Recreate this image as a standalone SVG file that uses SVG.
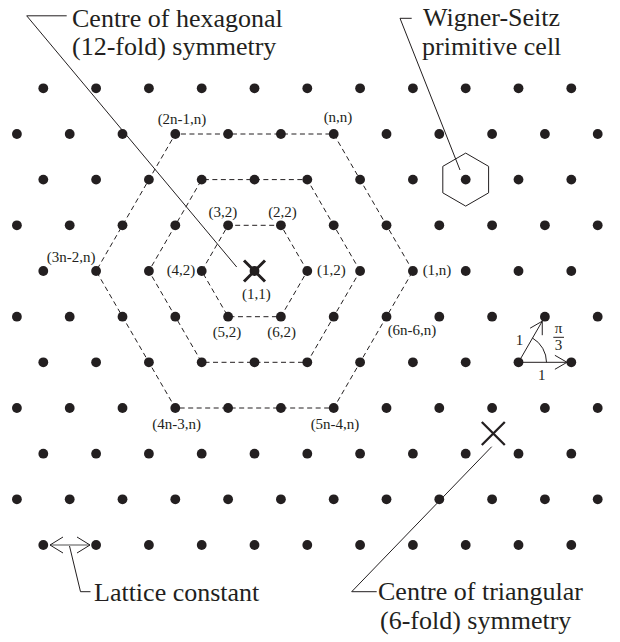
<svg xmlns="http://www.w3.org/2000/svg" xmlns:xlink="http://www.w3.org/1999/xlink" width="620" height="642" viewBox="0 0 620 642">
<style>
.dot{fill:#231f20}
.dash{fill:none;stroke:#231f20;stroke-width:1;stroke-dasharray:5,3.5}
.lead{fill:none;stroke:#231f20;stroke-width:1}
.big{font-size:26px;fill:#231f20}
.lbl{font-size:15px;fill:#231f20;text-anchor:middle}
.xm{fill:none;stroke:#231f20;stroke-linecap:butt}
</style>
<defs>
<g id="evenRow">
<circle class="dot" cx="43.3" cy="0" r="4.9"/><circle class="dot" cx="96.1" cy="0" r="4.9"/><circle class="dot" cx="148.9" cy="0" r="4.9"/><circle class="dot" cx="201.7" cy="0" r="4.9"/><circle class="dot" cx="254.5" cy="0" r="4.9"/><circle class="dot" cx="307.3" cy="0" r="4.9"/><circle class="dot" cx="360.1" cy="0" r="4.9"/><circle class="dot" cx="412.9" cy="0" r="4.9"/><circle class="dot" cx="465.7" cy="0" r="4.9"/><circle class="dot" cx="518.5" cy="0" r="4.9"/><circle class="dot" cx="571.3" cy="0" r="4.9"/>
</g>
<g id="oddRow">
<circle class="dot" cx="16.9" cy="0" r="4.9"/><circle class="dot" cx="69.7" cy="0" r="4.9"/><circle class="dot" cx="122.5" cy="0" r="4.9"/><circle class="dot" cx="175.3" cy="0" r="4.9"/><circle class="dot" cx="228.1" cy="0" r="4.9"/><circle class="dot" cx="280.9" cy="0" r="4.9"/><circle class="dot" cx="333.7" cy="0" r="4.9"/><circle class="dot" cx="386.5" cy="0" r="4.9"/><circle class="dot" cx="439.3" cy="0" r="4.9"/><circle class="dot" cx="492.1" cy="0" r="4.9"/><circle class="dot" cx="544.9" cy="0" r="4.9"/><circle class="dot" cx="597.7" cy="0" r="4.9"/>
</g>
</defs>

<g id="lattice">
<use xlink:href="#evenRow" href="#evenRow" y="88.3"/>
<use xlink:href="#oddRow" href="#oddRow" y="134"/>
<use xlink:href="#evenRow" href="#evenRow" y="179.6"/>
<use xlink:href="#oddRow" href="#oddRow" y="225.3"/>
<use xlink:href="#evenRow" href="#evenRow" y="271"/>
<use xlink:href="#oddRow" href="#oddRow" y="316.7"/>
<use xlink:href="#evenRow" href="#evenRow" y="362.3"/>
<use xlink:href="#oddRow" href="#oddRow" y="408"/>
<use xlink:href="#evenRow" href="#evenRow" y="453.7"/>
<use xlink:href="#oddRow" href="#oddRow" y="499.3"/>
<use xlink:href="#evenRow" href="#evenRow" y="545"/>
</g>

<g id="connectors">
<polygon class="dash" points="307.3,271 280.9,225.3 228.1,225.3 201.7,271 228.1,316.7 280.9,316.7"/>
<polygon class="dash" points="360.1,271 307.3,179.6 201.7,179.6 148.9,271 201.7,362.3 307.3,362.3"/>
<polygon class="dash" points="412.9,271 333.7,134 175.3,134 96.1,271 175.3,408 333.7,408"/>
<polyline class="lead" points="66.7,15.8 26.7,15.8 236.7,267"/>
<polyline class="lead" points="411.7,18.3 400,18.3 460,170"/>
<polyline class="lead" points="491.7,446.7 351.7,591.7 376.7,591.7"/>
<polyline class="lead" points="69.5,546 80.5,591.7 90.5,591.7"/>
</g>

<g id="wigner-seitz-cell">
<polygon class="lead" points="465.7,153.1 488.6,166.35 488.6,192.85 465.7,206.1 442.8,192.85 442.8,166.35"/>
</g>

<g id="hex-centre">
<path class="xm" stroke-width="3" d="M244,260.5 L265,281.5 M265,260.5 L244,281.5"/>
</g>

<g id="tri-centre">
<path class="xm" stroke-width="2.3" d="M481.8,422 L504.8,445 M504.8,422 L481.8,445"/>
</g>

<g id="lattice-constant">
<line x1="50" y1="545" x2="90" y2="545" stroke="#8a8a8a" stroke-width="1.4"/>
<polyline class="lead" points="63,537 50,545 63,553"/>
<polyline class="lead" points="77,537 90,545 77,553"/>
</g>

<g id="angle" font-family="'Liberation Serif', 'DejaVu Serif', serif">
<line class="lead" x1="518.5" y1="362.3" x2="542.25" y2="321.2"/>
<polyline class="lead" points="530.1,328.2 542.25,321.2 542.25,335.2"/>
<line class="lead" x1="518.5" y1="362.3" x2="567" y2="362.3"/>
<polyline class="lead" points="554.9,355.3 567,362.3 554.9,369.3"/>
<path class="lead" d="M546.5,362.3 A28,28 0 0 0 532.5,338.05"/>
<text class="lbl" x="519.5" y="345">1</text>
<text class="lbl" x="541.7" y="380">1</text>
<text class="lbl" x="558.5" y="333">π</text>
<line class="lead" x1="553.3" y1="337.3" x2="564" y2="337.3"/>
<text class="lbl" x="558.5" y="349.5">3</text>
</g>

<g id="labels" font-family="'Liberation Serif', 'DejaVu Serif', serif">
<text class="lbl" x="182" y="123.5">(2n-1,n)</text>
<text class="lbl" x="338" y="121.5">(n,n)</text>
<text class="lbl" x="222.8" y="216.8">(3,2)</text>
<text class="lbl" x="282.5" y="216.8">(2,2)</text>
<text class="lbl" x="71.2" y="262">(3n-2,n)</text>
<text class="lbl" x="181" y="275">(4,2)</text>
<text class="lbl" x="331.3" y="275">(1,2)</text>
<text class="lbl" x="437" y="275">(1,n)</text>
<text class="lbl" x="256.3" y="298.5">(1,1)</text>
<text class="lbl" x="227" y="336.8">(5,2)</text>
<text class="lbl" x="281.7" y="336.8">(6,2)</text>
<text class="lbl" x="412" y="335">(6n-6,n)</text>
<text class="lbl" x="176.7" y="428.5">(4n-3,n)</text>
<text class="lbl" x="335" y="428.5">(5n-4,n)</text>
</g>

<g id="titles" font-family="'Liberation Serif', 'DejaVu Serif', serif">
<text class="big" x="72" y="26.5">Centre of hexagonal</text>
<text class="big" x="72" y="55">(12-fold) symmetry</text>
<text class="big" x="423" y="26">Wigner-Seitz</text>
<text class="big" x="422" y="54.5">primitive cell</text>
<text class="big" x="94" y="601">Lattice constant</text>
<text class="big" x="378" y="600">Centre of triangular</text>
<text class="big" x="380" y="628.5">(6-fold) symmetry</text>
</g>
</svg>
